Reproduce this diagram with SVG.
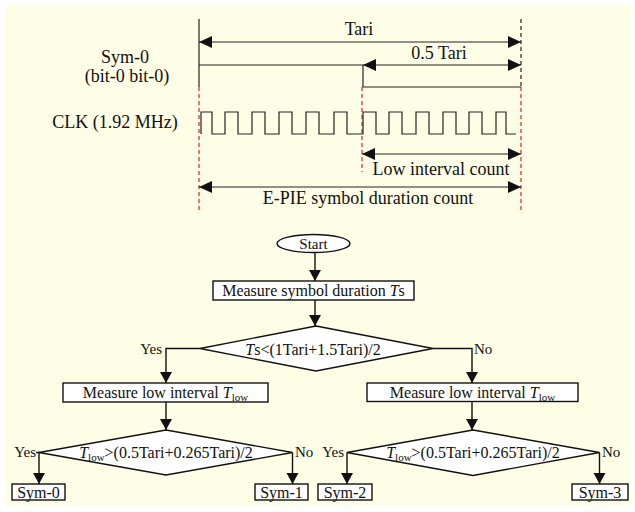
<svg xmlns="http://www.w3.org/2000/svg" width="635" height="512" viewBox="0 0 635 512">
<defs>
<style>
text{font-family:"Liberation Serif","Times New Roman",serif;fill:#111}
.t18{font-size:18px}
.t16{font-size:16px}
.t15{font-size:15px}
.t14{font-size:14px}
.ln{stroke:#222;stroke-width:1.2;fill:none}
.red{stroke:#e8322c;stroke-width:1.3;stroke-dasharray:4 3;fill:none}
.bd{stroke:#222;stroke-width:1.2;stroke-dasharray:4 3;fill:none}
.node{fill:#fff;stroke:#111;stroke-width:1.4}
.fl{stroke:#111;stroke-width:1.4;fill:none}
</style>
<marker id="dim" viewBox="0 0 13 12" refX="13" refY="6" markerWidth="13" markerHeight="12" markerUnits="userSpaceOnUse" orient="auto-start-reverse">
<path d="M0,0 L13,6 L0,12 Z" fill="#111"/>
</marker>
<marker id="arr" viewBox="0 0 13 12" refX="12" refY="6.5" markerWidth="12" markerHeight="13" markerUnits="userSpaceOnUse" orient="auto">
<path d="M0,0 L12,6.5 L0,13 Z" fill="#111"/>
</marker>
</defs>
<rect x="5" y="5" width="626" height="501" fill="#FEFEE6"/>

<g id="timing">
<line class="ln" x1="199" y1="19" x2="199" y2="87"/>
<line class="red" x1="199" y1="87" x2="199" y2="210"/>
<line class="bd" x1="521" y1="19" x2="521" y2="87"/>
<line class="red" x1="521" y1="87" x2="521" y2="210"/>
<line class="red" x1="362" y1="87" x2="362" y2="172"/>
<path class="ln" d="M199,65 H363 V87 H521"/>
<path class="ln" d="M201,134 V112 H212 V134 H225 V112 H238 V134 H252 V112 H265 V134 H279 V112 H292 V134 H306 V112 H319 V134 H334 V112 H347 V134 H363 V112 H376 V134 H389 V112 H402 V134 H416 V112 H429 V134 H443 V112 H456 V134 H469 V112 H482 V134 H496 V112 H506 V134 H516"/>
<text class="t18" x="125" y="63" text-anchor="middle">Sym-0</text>
<text class="t18" x="127" y="82" text-anchor="middle">(bit-0 bit-0)</text>
<text class="t18" x="115" y="128" text-anchor="middle">CLK (1.92 MHz)</text>
</g>

<g id="dimensions">
<line class="ln" x1="199" y1="42" x2="521" y2="42" marker-start="url(#dim)" marker-end="url(#dim)"/>
<text class="t18" x="359" y="35" text-anchor="middle">Tari</text>
<line class="ln" x1="363" y1="65" x2="521" y2="65" marker-start="url(#dim)" marker-end="url(#dim)"/>
<text class="t18" x="439" y="59" text-anchor="middle">0.5 Tari</text>
<line class="ln" x1="362" y1="154" x2="521" y2="154" marker-start="url(#dim)" marker-end="url(#dim)"/>
<text class="t18" x="441" y="175" text-anchor="middle">Low interval count</text>
<line class="ln" x1="199" y1="187" x2="521" y2="187" marker-start="url(#dim)" marker-end="url(#dim)"/>
<text class="t18" x="368" y="204" text-anchor="middle">E-PIE symbol duration count</text>
</g>

<g id="connectors">
<line class="fl" x1="315" y1="252" x2="315" y2="281" marker-end="url(#arr)"/>
<line class="fl" x1="315" y1="300" x2="315" y2="326" marker-end="url(#arr)"/>
<path class="fl" d="M200,348.5 H166 V383" marker-end="url(#arr)"/>
<path class="fl" d="M433,348.5 H472 V383" marker-end="url(#arr)"/>
<line class="fl" x1="166" y1="402" x2="166" y2="430" marker-end="url(#arr)"/>
<line class="fl" x1="472" y1="401" x2="472" y2="430" marker-end="url(#arr)"/>
<path class="fl" d="M36,452.5 H39 V484" marker-end="url(#arr)"/>
<path class="fl" d="M292.5,452.5 V484" marker-end="url(#arr)"/>
<path class="fl" d="M347,452.5 V484" marker-end="url(#arr)"/>
<path class="fl" d="M599.5,452.5 V484" marker-end="url(#arr)"/>
<text class="t15" x="162" y="354" text-anchor="end">Yes</text>
<text class="t15" x="474" y="354">No</text>
<text class="t15" x="36" y="457" text-anchor="end">Yes</text>
<text class="t15" x="295" y="457">No</text>
<text class="t15" x="344" y="457" text-anchor="end">Yes</text>
<text class="t15" x="602" y="457">No</text>
</g>

<g id="start">
<ellipse class="node" cx="313.5" cy="243.5" rx="36.5" ry="9"/>
<text class="t15" x="313.5" y="249" text-anchor="middle">Start</text>
</g>

<g id="measure-ts">
<rect class="node" x="213" y="281" width="201" height="19"/>
<text class="t16" x="313.5" y="296" text-anchor="middle">Measure symbol duration <tspan font-style="italic">T</tspan>s</text>
</g>

<g id="decision-ts">
<path class="node" d="M316,326 L433,348.5 L316,371 L200,348.5 Z"/>
<text class="t16" x="313" y="355" text-anchor="middle"><tspan font-style="italic">T</tspan>s&lt;(1Tari+1.5Tari)/2</text>
</g>

<g id="measure-low-left">
<rect class="node" x="63" y="383" width="205" height="19"/>
<text class="t16" x="165.5" y="398" text-anchor="middle">Measure low interval <tspan font-style="italic">T</tspan><tspan font-size="11" dy="3">low</tspan></text>
</g>

<g id="measure-low-right">
<rect class="node" x="367" y="383" width="211" height="18.5"/>
<text class="t16" x="472.5" y="397.5" text-anchor="middle">Measure low interval <tspan font-style="italic">T</tspan><tspan font-size="11" dy="3">low</tspan></text>
</g>

<g id="decision-low-left">
<path class="node" d="M166,430 L292.5,452.5 L166,475 L39,452.5 Z"/>
<text class="t16" x="166" y="458" text-anchor="middle"><tspan font-style="italic">T</tspan><tspan font-size="11" dy="3">low</tspan><tspan dy="-3">&gt;(0.5Tari+0.265Tari)/2</tspan></text>
</g>

<g id="decision-low-right">
<path class="node" d="M473,430 L599.5,452.5 L473,475.5 L347,452.5 Z"/>
<text class="t16" x="473" y="458" text-anchor="middle"><tspan font-style="italic">T</tspan><tspan font-size="11" dy="3">low</tspan><tspan dy="-3">&gt;(0.5Tari+0.265Tari)/2</tspan></text>
</g>

<g id="sym0">
<rect class="node" x="12" y="484" width="53" height="16"/>
<text class="t16" x="38.5" y="498" text-anchor="middle">Sym-0</text>
</g>
<g id="sym1">
<rect class="node" x="255" y="484" width="53" height="16"/>
<text class="t16" x="281.5" y="498" text-anchor="middle">Sym-1</text>
</g>
<g id="sym2">
<rect class="node" x="318" y="484" width="54" height="16"/>
<text class="t16" x="345" y="498" text-anchor="middle">Sym-2</text>
</g>
<g id="sym3">
<rect class="node" x="572" y="484" width="56" height="16"/>
<text class="t16" x="600" y="498" text-anchor="middle">Sym-3</text>
</g>
</svg>
